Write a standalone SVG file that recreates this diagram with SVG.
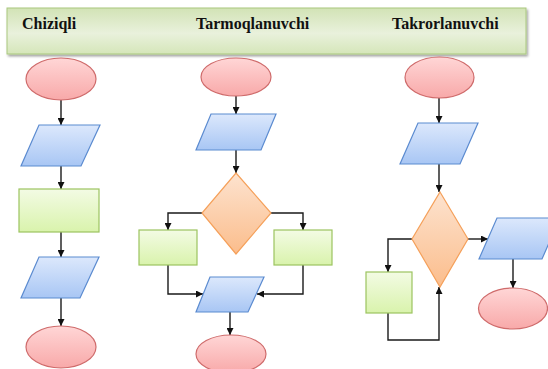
<svg xmlns="http://www.w3.org/2000/svg" width="548" height="369" viewBox="0 0 548 369">
<defs>
<linearGradient id="gHead" x1="0" y1="0" x2="0" y2="1">
<stop offset="0" stop-color="#d2e3b6"/><stop offset="0.55" stop-color="#e9f1dc"/><stop offset="1" stop-color="#d5e6b9"/>
</linearGradient>
<linearGradient id="gRed" x1="0" y1="0" x2="0" y2="1">
<stop offset="0" stop-color="#ffd6d6"/><stop offset="1" stop-color="#f8a9a9"/>
</linearGradient>
<linearGradient id="gBlue" x1="0" y1="0" x2="0" y2="1">
<stop offset="0" stop-color="#dce8fc"/><stop offset="1" stop-color="#a8c6f4"/>
</linearGradient>
<linearGradient id="gGreen" x1="0" y1="0" x2="0" y2="1">
<stop offset="0" stop-color="#f3fbe4"/><stop offset="1" stop-color="#d9f3ac"/>
</linearGradient>
<linearGradient id="gOrange" x1="0" y1="0" x2="0" y2="1">
<stop offset="0" stop-color="#fde3cf"/><stop offset="1" stop-color="#fbbd8c"/>
</linearGradient>
<filter id="sh" x="-5%" y="-20%" width="110%" height="150%">
<feDropShadow dx="1.5" dy="2" stdDeviation="1.2" flood-color="#000" flood-opacity="0.35"/>
</filter>
<marker id="ah" viewBox="0 0 10 10" refX="10" refY="5" markerWidth="7" markerHeight="7" markerUnits="userSpaceOnUse" orient="auto">
<path d="M0,0 L10,5 L0,10 z" fill="#111"/>
</marker>
</defs>
<style>
.term{fill:url(#gRed);stroke:#cf6b6b;stroke-width:1.2}
.io{fill:url(#gBlue);stroke:#5b8bd0;stroke-width:1.2}
.proc{fill:url(#gGreen);stroke:#9cc45f;stroke-width:1.2}
.dec{fill:url(#gOrange);stroke:#f5a05a;stroke-width:1.2}
.c{fill:none;stroke:#1a1a1a;stroke-width:1.4;marker-end:url(#ah)}
.hd{font-family:"Liberation Serif",serif;font-weight:bold;font-size:16px;fill:#111}
</style>
<g id="header">
<rect x="7" y="8" width="519" height="46" fill="url(#gHead)" stroke="#a9c77f" stroke-width="1" filter="url(#sh)"/>
<text class="hd" x="22" y="29">Chiziqli</text>
<text class="hd" x="196" y="29">Tarmoqlanuvchi</text>
<text class="hd" x="392" y="29">Takrorlanuvchi</text>
</g>
<g id="connectors">
<line class="c" x1="61" y1="100" x2="61" y2="125"/>
<line class="c" x1="61" y1="166" x2="61" y2="189"/>
<line class="c" x1="61" y1="232" x2="61" y2="257"/>
<line class="c" x1="61" y1="298" x2="61" y2="326"/>
<line class="c" x1="236" y1="96" x2="236" y2="114"/>
<line class="c" x1="236" y1="150" x2="236" y2="173"/>
<polyline class="c" points="202,213 168,213 168,230"/>
<polyline class="c" points="271,213 303,213 303,230"/>
<polyline class="c" points="168,265 168,294 203,294"/>
<polyline class="c" points="303,265 303,294 257,294"/>
<line class="c" x1="230" y1="312" x2="230" y2="335"/>
<line class="c" x1="439" y1="98" x2="439" y2="123"/>
<line class="c" x1="439" y1="164" x2="439" y2="192"/>
<line class="c" x1="468" y1="239" x2="488" y2="239"/>
<line class="c" x1="513" y1="259" x2="513" y2="288"/>
<polyline class="c" points="412,239 388,239 388,272"/>
<polyline class="c" points="388,313 388,340 439,340 439,287"/>
</g>
<g id="c1-start"><ellipse class="term" cx="61" cy="79" rx="35" ry="21"/></g>
<g id="c1-input"><polygon class="io" points="39,125 100,125 81,166 21,166"/></g>
<g id="c1-process"><rect class="proc" x="19" y="189" width="80" height="43"/></g>
<g id="c1-output"><polygon class="io" points="39,257 99,257 80,298 21,298"/></g>
<g id="c1-end"><ellipse class="term" cx="61" cy="347" rx="35" ry="21"/></g>
<g id="c2-start"><ellipse class="term" cx="236" cy="77" rx="35" ry="19"/></g>
<g id="c2-input"><polygon class="io" points="211,114 276,114 261,150 196,150"/></g>
<g id="c2-decision"><polygon class="dec" points="236,173 271,213 236,254 202,213"/></g>
<g id="c2-left"><rect class="proc" x="139" y="230" width="58" height="35"/></g>
<g id="c2-right"><rect class="proc" x="274" y="230" width="58" height="35"/></g>
<g id="c2-output"><polygon class="io" points="210,277 264,277 248,312 196,312"/></g>
<g id="c2-end"><ellipse class="term" cx="231" cy="354" rx="35" ry="19"/></g>
<g id="c3-start"><ellipse class="term" cx="439.5" cy="77.5" rx="34.5" ry="20.5"/></g>
<g id="c3-input"><polygon class="io" points="418,123 478,123 460,164 400,164"/></g>
<g id="c3-decision"><polygon class="dec" points="440,192 468,239 440,287 412,239"/></g>
<g id="c3-process"><rect class="proc" x="366" y="272" width="46" height="41"/></g>
<g id="c3-output"><polygon class="io" points="497,218 560,218 542,259 479,259"/></g>
<g id="c3-end"><ellipse class="term" cx="513" cy="308.5" rx="34.5" ry="20.5"/></g>
</svg>
